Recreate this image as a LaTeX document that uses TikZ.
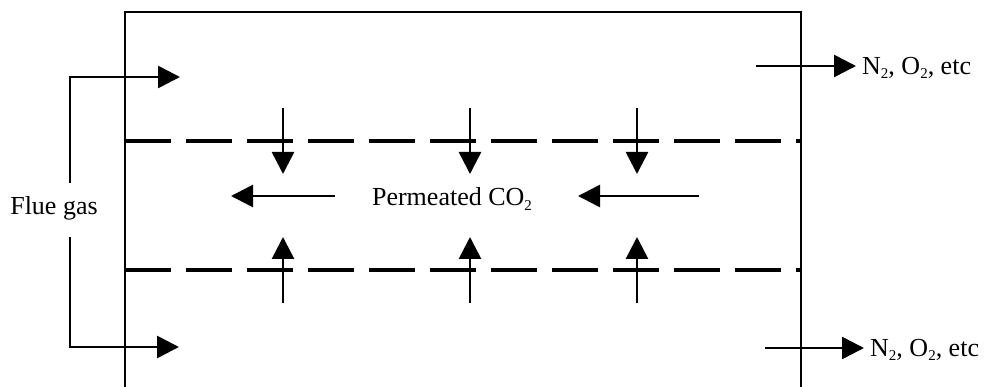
\documentclass[tikz,border=0pt]{standalone}
\usepackage{fontspec}
\setmainfont{Liberation Serif}
\usetikzlibrary{arrows.meta}
\newcommand\lowsub[1]{\raisebox{-0.35ex}{\fontsize{15}{15}\selectfont #1}}
\begin{document}
\begin{tikzpicture}[x=1pt,y=-1pt,
  wall/.style={line width=1.8pt},
  membrane/.style={line width=3.8pt,dash pattern=on 46pt off 15pt},
  flow/.style={line width=2.6pt,-{Triangle[length=22pt,width=22pt]}},
  lbl/.style={font=\fontsize{26}{30}\selectfont,inner sep=0pt}]
\useasboundingbox (0,0) rectangle (999,387);
% module walls
\coordinate (bl) at (125,387);
\coordinate (tl) at (125,12);
\coordinate (tr) at (801,12);
\coordinate (br) at (801,387);
\draw[wall] (bl) -- (tl) -- (tr) -- (br);
% membranes
\coordinate (m1a) at (125,141); \coordinate (m1b) at (801,141);
\coordinate (m2a) at (125,270); \coordinate (m2b) at (801,270);
\draw[membrane] (m1a) -- (m1b);
\draw[membrane] (m2a) -- (m2b);
% flue gas
\node[lbl] (flue) at (54,208) {Flue gas};
\coordinate (f1) at (70,183); \coordinate (f1c) at (70,77); \coordinate (f1e) at (180,77);
\coordinate (f2) at (70,237); \coordinate (f2c) at (70,347); \coordinate (f2e) at (179,347);
\draw[flow] (f1) -- (f1c) -- (f1e);
\draw[flow] (f2) -- (f2c) -- (f2e);
% permeation arrows
\foreach \i/\x in {1/283,2/470,3/637}{
  \coordinate (d\i s) at (\x,108); \coordinate (d\i e) at (\x,174);
  \coordinate (u\i s) at (\x,303); \coordinate (u\i e) at (\x,237);
  \draw[flow] (d\i s) -- (d\i e);
  \draw[flow] (u\i s) -- (u\i e);
}
% permeate
\node[lbl] (perm) at (452,199) {Permeated CO\lowsub{2}};
\coordinate (p1s) at (335,196); \coordinate (p1e) at (231,196);
\coordinate (p2s) at (699,196); \coordinate (p2e) at (578,196);
\draw[flow] (p1s) -- (p1e);
\draw[flow] (p2s) -- (p2e);
% retentate
\coordinate (r1s) at (756,66); \coordinate (r1e) at (856,66);
\coordinate (r2s) at (765,348); \coordinate (r2e) at (864,348);
\draw[flow] (r1s) -- (r1e);
\draw[flow] (r2s) -- (r2e);
\node[lbl,anchor=west] (n1) at (862,68) {N\lowsub{2}, O\lowsub{2}, etc};
\node[lbl,anchor=west] (n2) at (870,350) {N\lowsub{2}, O\lowsub{2}, etc};
\end{tikzpicture}
\end{document}
